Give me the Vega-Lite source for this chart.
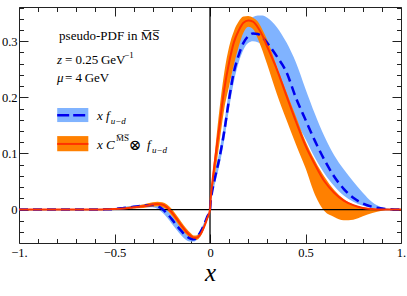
{
  "$schema": "https://vega.github.io/schema/vega-lite/v6.json",
  "width": 382,
  "height": 236,
  "autosize": {"type": "none"},
  "padding": {"left": 19, "top": 7, "right": 6, "bottom": 53},
  "background": "white",
  "config": {
    "view": {"stroke": "#222", "strokeWidth": 1},
    "axis": {"grid": false, "domain": false, "labelFont": "Liberation Serif", "labelFontSize": 12.5, "labelColor": "black", "tickColor": "#222", "tickWidth": 1, "titleFont": "Liberation Serif", "titleColor": "black"}
  },
  "data": {"values": [
    {"x": -1, "blo": 0, "bmid": 0, "bhi": 0, "olo": 0, "omid": 0, "ohi": 0},
    {"x": -0.9, "blo": 0, "bmid": 0, "bhi": 0, "olo": 0, "omid": 0, "ohi": 0},
    {"x": -0.8, "blo": 0, "bmid": 0, "bhi": 0, "olo": 0, "omid": 0, "ohi": 0},
    {"x": -0.7, "blo": 0, "bmid": 0, "bhi": 0, "olo": 0, "omid": 0, "ohi": 0},
    {"x": -0.6, "blo": -0.0005, "bmid": 0, "bhi": 0.0005, "olo": 0, "omid": 0, "ohi": 0},
    {"x": -0.55, "blo": 0, "bmid": 0.0005, "bhi": 0.0015, "olo": 0, "omid": 0.0005, "ohi": 0.001},
    {"x": -0.5, "blo": -0.0005, "bmid": 0.001, "bhi": 0.0025, "olo": 0, "omid": 0.001, "ohi": 0.002},
    {"x": -0.45, "blo": 0.001, "bmid": 0.003, "bhi": 0.005, "olo": 0.001, "omid": 0.002, "ohi": 0.004},
    {"x": -0.4, "blo": 0.002, "bmid": 0.005, "bhi": 0.007, "olo": 0.002, "omid": 0.004, "ohi": 0.006},
    {"x": -0.35, "blo": 0.004, "bmid": 0.007, "bhi": 0.009, "olo": 0.003, "omid": 0.006, "ohi": 0.009},
    {"x": -0.3, "blo": 0.004, "bmid": 0.008, "bhi": 0.011, "olo": 0.005, "omid": 0.009, "ohi": 0.013},
    {"x": -0.275, "blo": 0.001, "bmid": 0.006, "bhi": 0.01, "olo": 0.006, "omid": 0.01, "ohi": 0.014},
    {"x": -0.25, "blo": -0.005, "bmid": 0.001, "bhi": 0.006, "olo": 0.004, "omid": 0.009, "ohi": 0.013},
    {"x": -0.225, "blo": -0.014, "bmid": -0.007, "bhi": -0.001, "olo": -0.001, "omid": 0.004, "ohi": 0.009},
    {"x": -0.2, "blo": -0.025, "bmid": -0.017, "bhi": -0.01, "olo": -0.011, "omid": -0.005, "ohi": 0.001},
    {"x": -0.175, "blo": -0.036, "bmid": -0.028, "bhi": -0.021, "olo": -0.022, "omid": -0.016, "ohi": -0.01},
    {"x": -0.15, "blo": -0.046, "bmid": -0.038, "bhi": -0.031, "olo": -0.034, "omid": -0.028, "ohi": -0.022},
    {"x": -0.125, "blo": -0.054, "bmid": -0.047, "bhi": -0.04, "olo": -0.044, "omid": -0.039, "ohi": -0.033},
    {"x": -0.1, "blo": -0.057, "bmid": -0.052, "bhi": -0.046, "olo": -0.051, "omid": -0.047, "ohi": -0.042},
    {"x": -0.085, "blo": -0.057, "bmid": -0.053, "bhi": -0.048, "olo": -0.054, "omid": -0.05, "ohi": -0.046},
    {"x": -0.07, "blo": -0.054, "bmid": -0.05, "bhi": -0.046, "olo": -0.054, "omid": -0.05, "ohi": -0.046},
    {"x": -0.05, "blo": -0.044, "bmid": -0.04, "bhi": -0.036, "olo": -0.048, "omid": -0.044, "ohi": -0.04},
    {"x": -0.03, "blo": -0.03, "bmid": -0.026, "bhi": -0.022, "olo": -0.034, "omid": -0.03, "ohi": -0.026},
    {"x": -0.015, "blo": -0.016, "bmid": -0.013, "bhi": -0.01, "olo": -0.019, "omid": -0.016, "ohi": -0.013},
    {"x": 0, "blo": 0, "bmid": 0, "bhi": 0, "olo": 0, "omid": 0, "ohi": 0},
    {"x": 0.005, "blo": 0.015, "bmid": 0.02, "bhi": 0.025, "olo": 0.018, "omid": 0.025, "ohi": 0.032},
    {"x": 0.01, "blo": 0.025, "bmid": 0.03, "bhi": 0.035, "olo": 0.03, "omid": 0.042, "ohi": 0.05},
    {"x": 0.025, "blo": 0.045, "bmid": 0.055, "bhi": 0.065, "olo": 0.06, "omid": 0.085, "ohi": 0.1},
    {"x": 0.05, "blo": 0.08, "bmid": 0.093, "bhi": 0.105, "olo": 0.12, "omid": 0.15, "ohi": 0.18},
    {"x": 0.075, "blo": 0.125, "bmid": 0.14, "bhi": 0.155, "olo": 0.18, "omid": 0.215, "ohi": 0.245},
    {"x": 0.1, "blo": 0.18, "bmid": 0.197, "bhi": 0.215, "olo": 0.22, "omid": 0.262, "ohi": 0.29},
    {"x": 0.125, "blo": 0.228, "bmid": 0.245, "bhi": 0.265, "olo": 0.258, "omid": 0.298, "ohi": 0.318},
    {"x": 0.15, "blo": 0.262, "bmid": 0.275, "bhi": 0.3, "olo": 0.29, "omid": 0.319, "ohi": 0.335},
    {"x": 0.175, "blo": 0.285, "bmid": 0.297, "bhi": 0.322, "olo": 0.315, "omid": 0.333, "ohi": 0.344},
    {"x": 0.2, "blo": 0.297, "bmid": 0.309, "bhi": 0.336, "olo": 0.326, "omid": 0.337, "ohi": 0.345},
    {"x": 0.225, "blo": 0.3, "bmid": 0.314, "bhi": 0.343, "olo": 0.322, "omid": 0.335, "ohi": 0.342},
    {"x": 0.25, "blo": 0.298, "bmid": 0.313, "bhi": 0.346, "olo": 0.305, "omid": 0.325, "ohi": 0.335},
    {"x": 0.275, "blo": 0.293, "bmid": 0.307, "bhi": 0.346, "olo": 0.283, "omid": 0.31, "ohi": 0.32},
    {"x": 0.3, "blo": 0.285, "bmid": 0.297, "bhi": 0.342, "olo": 0.258, "omid": 0.29, "ohi": 0.302},
    {"x": 0.35, "blo": 0.255, "bmid": 0.273, "bhi": 0.325, "olo": 0.206, "omid": 0.25, "ohi": 0.255},
    {"x": 0.4, "blo": 0.199, "bmid": 0.245, "bhi": 0.298, "olo": 0.16, "omid": 0.203, "ohi": 0.21},
    {"x": 0.45, "blo": 0.158, "bmid": 0.199, "bhi": 0.262, "olo": 0.116, "omid": 0.157, "ohi": 0.166},
    {"x": 0.5, "blo": 0.126, "bmid": 0.16, "bhi": 0.215, "olo": 0.074, "omid": 0.114, "ohi": 0.122},
    {"x": 0.55, "blo": 0.092, "bmid": 0.122, "bhi": 0.17, "olo": 0.026, "omid": 0.08, "ohi": 0.087},
    {"x": 0.6, "blo": 0.064, "bmid": 0.088, "bhi": 0.13, "olo": -0.003, "omid": 0.05, "ohi": 0.058},
    {"x": 0.65, "blo": 0.042, "bmid": 0.059, "bhi": 0.097, "olo": -0.013, "omid": 0.03, "ohi": 0.035},
    {"x": 0.7, "blo": 0.025, "bmid": 0.037, "bhi": 0.072, "olo": -0.019, "omid": 0.016, "ohi": 0.019},
    {"x": 0.75, "blo": 0.014, "bmid": 0.021, "bhi": 0.05, "olo": -0.018, "omid": 0.008, "ohi": 0.009},
    {"x": 0.8, "blo": 0.007, "bmid": 0.011, "bhi": 0.03, "olo": -0.012, "omid": 0.003, "ohi": 0.004},
    {"x": 0.85, "blo": 0.003, "bmid": 0.005, "bhi": 0.013, "olo": -0.006, "omid": 0.001, "ohi": 0.0015},
    {"x": 0.9, "blo": 0.001, "bmid": 0.002, "bhi": 0.004, "olo": -0.002, "omid": 0, "ohi": 0.0005},
    {"x": 0.95, "blo": 0, "bmid": 0.0005, "bhi": 0.001, "olo": 0, "omid": 0, "ohi": 0},
    {"x": 1, "blo": 0, "bmid": 0, "bhi": 0, "olo": 0, "omid": 0, "ohi": 0}
  ]},
  "resolve": {"axis": {"x": "independent", "y": "independent"}},
  "layer": [
    {
      "mark": {"type": "area", "color": "#80b3ff", "interpolate": "monotone"},
      "encoding": {
        "x": {"field": "x", "type": "quantitative", "scale": {"domain": [-1, 1], "nice": false, "zero": false},
          "axis": {"orient": "bottom", "values": [-1,-0.9,-0.8,-0.7,-0.6,-0.5,-0.4,-0.3,-0.2,-0.1,0,0.1,0.2,0.3,0.4,0.5,0.6,0.7,0.8,0.9,1],
            "labelExpr": "abs(datum.value*2-round(datum.value*2))>0.001 ? '' : datum.value==-1 ? '−1.' : datum.value==1 ? '1.' : datum.value==-0.5 ? '−0.5' : datum.value==0 ? '0' : '0.5'",
            "tickSize": {"condition": {"test": "abs(datum.value*2-round(datum.value*2))>0.001", "value": -4.5}, "value": -9},
            "labelPadding": 12, "labelFlush": false,
            "title": "x", "titleFontStyle": "italic", "titleFontSize": 25, "titleFontWeight": "normal", "titleY": 37, "titleBaseline": "alphabetic"}},
        "y": {"field": "blo", "type": "quantitative", "scale": {"domain": [-0.0595, 0.361], "nice": false, "zero": false},
          "axis": {"orient": "left", "values": [-0.04,-0.02,0,0.02,0.04,0.06,0.08,0.1,0.12,0.14,0.16,0.18,0.2,0.22,0.24,0.26,0.28,0.3,0.32,0.34,0.36],
            "labelExpr": "abs(datum.value*10-round(datum.value*10))>0.001 ? '' : format(datum.value, '.1~f')",
            "tickSize": {"condition": {"test": "abs(datum.value*10-round(datum.value*10))>0.001", "value": -4.5}, "value": -9},
            "labelPadding": 11, "labelFlush": false, "title": null}},
        "y2": {"field": "bhi"}
      }
    },
    {
      "mark": {"type": "area", "color": "#ff8000", "interpolate": "monotone"},
      "encoding": {
        "x": {"field": "x", "type": "quantitative",
          "axis": {"orient": "top", "values": [-1,-0.9,-0.8,-0.7,-0.6,-0.5,-0.4,-0.3,-0.2,-0.1,0,0.1,0.2,0.3,0.4,0.5,0.6,0.7,0.8,0.9,1],
            "labels": false,
            "tickSize": {"condition": {"test": "abs(datum.value*2-round(datum.value*2))>0.001", "value": -4.5}, "value": -9},
            "title": null}},
        "y": {"field": "olo", "type": "quantitative",
          "axis": {"orient": "right", "values": [-0.04,-0.02,0,0.02,0.04,0.06,0.08,0.1,0.12,0.14,0.16,0.18,0.2,0.22,0.24,0.26,0.28,0.3,0.32,0.34,0.36],
            "labels": false,
            "tickSize": {"condition": {"test": "abs(datum.value*10-round(datum.value*10))>0.001", "value": -4.5}, "value": -9},
            "title": null}},
        "y2": {"field": "ohi"}
      }
    },
    {
      "data": {"values": [{}]},
      "mark": {"type": "rule", "color": "black", "strokeWidth": 1.3},
      "encoding": {"y": {"datum": 0, "type": "quantitative", "axis": null}}
    },
    {
      "data": {"values": [{}]},
      "mark": {"type": "rule", "color": "black", "strokeWidth": 1.3},
      "encoding": {"x": {"datum": 0, "type": "quantitative", "axis": null}}
    },
    {
      "mark": {"type": "line", "color": "#0000ee", "strokeWidth": 2.5, "strokeDash": [9, 5], "interpolate": "monotone"},
      "encoding": {
        "x": {"field": "x", "type": "quantitative", "axis": null},
        "y": {"field": "bmid", "type": "quantitative", "axis": null}
      }
    },
    {
      "mark": {"type": "line", "color": "#ff3300", "strokeWidth": 2, "interpolate": "monotone"},
      "encoding": {
        "x": {"field": "x", "type": "quantitative", "axis": null},
        "y": {"field": "omid", "type": "quantitative", "axis": null}
      }
    },
    {
      "data": {"values": [{}]},
      "mark": {"type": "rect", "color": "#80b3ff"},
      "encoding": {"x": {"datum": -0.8, "type": "quantitative", "axis": null}, "x2": {"datum": -0.637}, "y": {"datum": 0.156, "type": "quantitative", "axis": null}, "y2": {"datum": 0.181}}
    },
    {
      "data": {"values": [{}]},
      "mark": {"type": "rule", "color": "#0000ee", "strokeWidth": 2.5, "strokeDash": [12, 4]},
      "encoding": {"x": {"datum": -0.8, "type": "quantitative", "axis": null}, "x2": {"datum": -0.637}, "y": {"datum": 0.168, "type": "quantitative", "axis": null}}
    },
    {
      "data": {"values": [{}]},
      "mark": {"type": "rect", "color": "#ff8000"},
      "encoding": {"x": {"datum": -0.8, "type": "quantitative", "axis": null}, "x2": {"datum": -0.637}, "y": {"datum": 0.104, "type": "quantitative", "axis": null}, "y2": {"datum": 0.131}}
    },
    {
      "data": {"values": [{}]},
      "mark": {"type": "rule", "color": "#ff3300", "strokeWidth": 2},
      "encoding": {"x": {"datum": -0.8, "type": "quantitative", "axis": null}, "x2": {"datum": -0.637}, "y": {"datum": 0.117, "type": "quantitative", "axis": null}}
    },
    {
      "data": {"values": [{}]},
      "mark": {"type": "text", "text": "pseudo-PDF in M\u0305S\u0305", "font": "Liberation Serif", "fontSize": 13, "align": "left", "baseline": "alphabetic", "color": "black"},
      "encoding": {"x": {"datum": -0.79, "type": "quantitative", "axis": null}, "y": {"datum": 0.302, "type": "quantitative", "axis": null}}
    },
    {
      "data": {"values": [{}]},
      "mark": {"type": "text", "text": "z", "font": "Liberation Serif", "fontSize": 13, "fontStyle": "italic", "align": "left", "baseline": "alphabetic", "color": "black"},
      "encoding": {"x": {"datum": -0.801, "type": "quantitative", "axis": null}, "y": {"datum": 0.259, "type": "quantitative", "axis": null}}
    },
    {
      "data": {"values": [{}]},
      "mark": {"type": "text", "text": "= 0.25\u2009GeV", "font": "Liberation Serif", "fontSize": 13, "align": "left", "baseline": "alphabetic", "color": "black"},
      "encoding": {"x": {"datum": -0.759, "type": "quantitative", "axis": null}, "y": {"datum": 0.259, "type": "quantitative", "axis": null}}
    },
    {
      "data": {"values": [{}]},
      "mark": {"type": "text", "text": "−1", "font": "Liberation Serif", "fontSize": 9, "align": "left", "baseline": "alphabetic", "color": "black"},
      "encoding": {"x": {"datum": -0.45, "type": "quantitative", "axis": null}, "y": {"datum": 0.271, "type": "quantitative", "axis": null}}
    },
    {
      "data": {"values": [{}]},
      "mark": {"type": "text", "text": "μ", "font": "Liberation Serif", "fontSize": 13, "fontStyle": "italic", "align": "left", "baseline": "alphabetic", "color": "black"},
      "encoding": {"x": {"datum": -0.801, "type": "quantitative", "axis": null}, "y": {"datum": 0.2275, "type": "quantitative", "axis": null}}
    },
    {
      "data": {"values": [{}]},
      "mark": {"type": "text", "text": "= 4\u2009GeV", "font": "Liberation Serif", "fontSize": 13, "align": "left", "baseline": "alphabetic", "color": "black"},
      "encoding": {"x": {"datum": -0.759, "type": "quantitative", "axis": null}, "y": {"datum": 0.2275, "type": "quantitative", "axis": null}}
    },
    {
      "data": {"values": [{}]},
      "mark": {"type": "text", "text": "x f", "font": "Liberation Serif", "fontSize": 13, "fontStyle": "italic", "align": "left", "baseline": "alphabetic", "color": "black"},
      "encoding": {"x": {"datum": -0.592, "type": "quantitative", "axis": null}, "y": {"datum": 0.1593, "type": "quantitative", "axis": null}}
    },
    {
      "data": {"values": [{}]},
      "mark": {"type": "text", "text": "u−d", "font": "Liberation Serif", "fontSize": 9, "fontStyle": "italic", "align": "left", "baseline": "alphabetic", "color": "black"},
      "encoding": {"x": {"datum": -0.52, "type": "quantitative", "axis": null}, "y": {"datum": 0.153, "type": "quantitative", "axis": null}}
    },
    {
      "data": {"values": [{}]},
      "mark": {"type": "text", "text": "x C", "font": "Liberation Serif", "fontSize": 13, "fontStyle": "italic", "align": "left", "baseline": "alphabetic", "color": "black"},
      "encoding": {"x": {"datum": -0.592, "type": "quantitative", "axis": null}, "y": {"datum": 0.1075, "type": "quantitative", "axis": null}}
    },
    {
      "data": {"values": [{}]},
      "mark": {"type": "text", "text": "M\u0305S\u0305", "font": "Liberation Serif", "fontSize": 9, "align": "left", "baseline": "alphabetic", "color": "black"},
      "encoding": {"x": {"datum": -0.492, "type": "quantitative", "axis": null}, "y": {"datum": 0.122, "type": "quantitative", "axis": null}}
    },
    {
      "data": {"values": [{}]},
      "mark": {"type": "text", "text": "⊗", "font": "DejaVu Serif", "fontSize": 15, "align": "left", "baseline": "alphabetic", "color": "black"},
      "encoding": {"x": {"datum": -0.425, "type": "quantitative", "axis": null}, "y": {"datum": 0.1065, "type": "quantitative", "axis": null}}
    },
    {
      "data": {"values": [{}]},
      "mark": {"type": "text", "text": "f", "font": "Liberation Serif", "fontSize": 13, "fontStyle": "italic", "align": "left", "baseline": "alphabetic", "color": "black"},
      "encoding": {"x": {"datum": -0.33, "type": "quantitative", "axis": null}, "y": {"datum": 0.1075, "type": "quantitative", "axis": null}}
    },
    {
      "data": {"values": [{}]},
      "mark": {"type": "text", "text": "u−d", "font": "Liberation Serif", "fontSize": 9, "fontStyle": "italic", "align": "left", "baseline": "alphabetic", "color": "black"},
      "encoding": {"x": {"datum": -0.304, "type": "quantitative", "axis": null}, "y": {"datum": 0.1015, "type": "quantitative", "axis": null}}
    }
  ]
}
